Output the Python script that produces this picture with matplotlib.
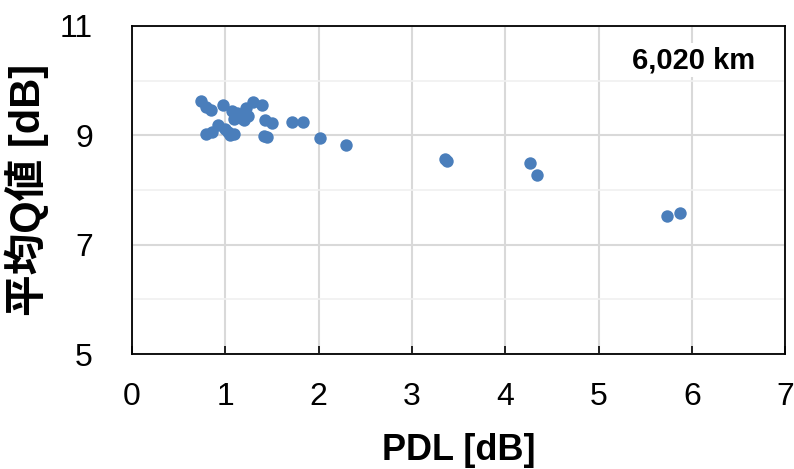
import matplotlib.pyplot as plt
from matplotlib.ticker import MultipleLocator

plt.rcParams['font.family'] = ['Liberation Sans', 'Noto Sans CJK JP', 'DejaVu Sans']

# PDL [dB] vs average Q value [dB], 6,020 km transmission
pdl = [0.74, 0.80, 0.85, 0.80, 0.86, 0.92, 0.98, 1.00, 1.03, 1.05, 1.07, 1.10,
       1.10, 1.13, 1.17, 1.20, 1.22, 1.25, 1.30, 1.40, 1.42, 1.43, 1.45, 1.50,
       1.72, 1.83, 2.02, 2.29, 3.36, 3.38, 4.27, 4.34, 5.73, 5.87]
q_avg = [9.62, 9.52, 9.47, 9.02, 9.05, 9.18, 9.55, 9.12, 9.05, 9.00, 9.45, 9.02,
         9.30, 9.40, 9.32, 9.27, 9.50, 9.35, 9.60, 9.55, 8.98, 9.28, 8.96, 9.23,
         9.25, 9.25, 8.95, 8.83, 8.57, 8.53, 8.49, 8.28, 7.52, 7.57]
x_ticks = [0, 1, 2, 3, 4, 5, 6, 7]
y_ticks = [5, 7, 9, 11]

fig = plt.figure(figsize=(7.94, 4.69), dpi=100)
ax = fig.add_axes([0.166, 0.245, 0.823, 0.700])

ax.scatter(pdl, q_avg, s=80, color='#4a7ebb', zorder=3, linewidths=0)

ax.set_xlim(0, 7)
ax.set_ylim(5, 11)
ax.set_xticks(x_ticks)
ax.set_yticks(y_ticks)
ax.yaxis.set_minor_locator(MultipleLocator(1))

ax.grid(True, which='major', color='#d9d9d9', linewidth=1.5, zorder=0)
ax.grid(True, which='minor', axis='y', color='#f0f0f0', linewidth=1.2, zorder=0)

for side in ax.spines.values():
    side.set_color('black')
    side.set_linewidth(1.3)

ax.tick_params(axis='x', direction='in', length=6, width=1.2, pad=20, labelsize=23)
ax.tick_params(axis='y', length=0, pad=28, labelsize=23)
ax.tick_params(axis='y', which='minor', length=0)

ax.set_xlabel('PDL [dB]', fontsize=26, fontweight='bold', labelpad=15)
ax.set_ylabel('平均Q値 [dB]', fontsize=30, fontweight='bold', labelpad=8)

ax.text(0.954, 0.895, '6,020 km', transform=ax.transAxes, ha='right', va='center',
        fontsize=21, fontweight='bold', zorder=4,
        bbox=dict(facecolor='white', edgecolor='none', pad=2))

fig.savefig('out.png', dpi=100)
